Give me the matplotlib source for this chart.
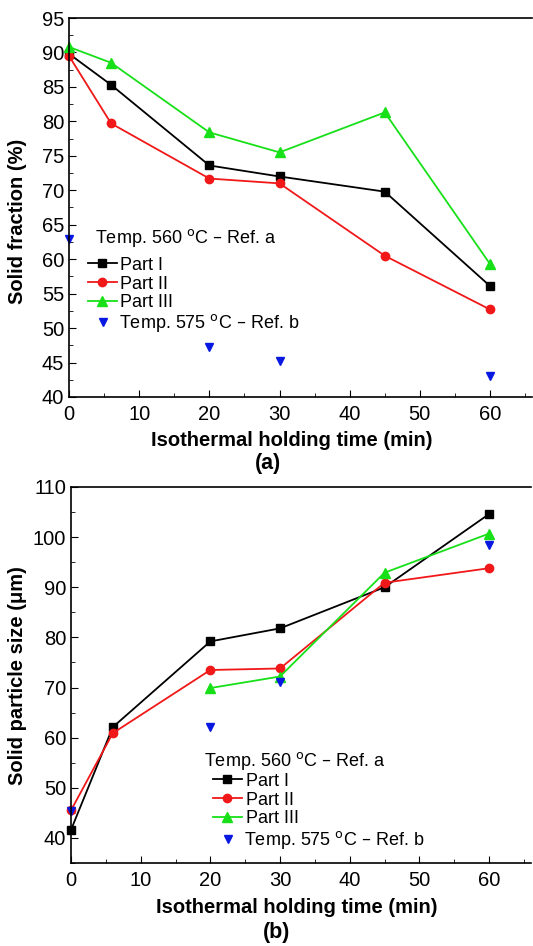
import numpy as np
import matplotlib.pyplot as plt
from matplotlib.ticker import MultipleLocator
from matplotlib.lines import Line2D

plt.rcParams['font.family'] = ['Liberation Sans', 'DejaVu Sans']

# data (a) solid fraction
t = [0, 6, 20, 30, 45, 60]
frac_p1 = [89.8, 85.3, 73.6, 72.0, 69.8, 56.1]
frac_p2 = [89.5, 79.7, 71.7, 71.0, 60.5, 52.7]
frac_p3 = [90.8, 88.5, 78.4, 75.5, 81.3, 59.3]
t_refb = [0, 20, 30, 60]
frac_refb = [63.0, 47.2, 45.2, 43.1]

# data (b) particle size
size_p1 = [41.6, 62.1, 79.2, 81.8, 90.0, 104.6]
size_p2 = [45.5, 60.9, 73.5, 73.8, 90.9, 93.8]
t_p3b = [20, 30, 45, 60]
size_p3 = [69.9, 72.2, 92.9, 100.7]
size_refb = [45.3, 62.1, 71.2, 98.4]

W, H = 533, 946
fig = plt.figure(figsize=(W / 100, H / 100), dpi=100)
ax1 = fig.add_axes([69 / W, 1 - 397 / H, 66 * 7.017 / W, 379 / H])
ax2 = fig.add_axes([71 / W, 1 - 863 / H, 66 * 6.967 / W, 376 / H])

BLACK, RED, GREEN, BLUE = 'black', '#f01818', '#18e018', '#0818e0'
ref_a = 'Temp. 560 $^{\\mathrm{o}}$C – Ref. a'
ref_b = 'Temp. 575 $^{\\mathrm{o}}$C – Ref. b'


def px(x, y):
    return x / W, 1 - y / H


def style(ax, ylim, ymaj, ymin):
    ax.set_xlim(0, 66)
    ax.set_ylim(*ylim)
    ax.xaxis.set_major_locator(MultipleLocator(10))
    ax.xaxis.set_minor_locator(MultipleLocator(5))
    ax.yaxis.set_major_locator(MultipleLocator(ymaj))
    ax.yaxis.set_minor_locator(MultipleLocator(ymin))
    ax.tick_params(which='both', direction='in', labelsize=14.5, top=False, right=False)
    ax.tick_params(axis='x', pad=6)
    ax.tick_params(which='major', length=5)
    ax.tick_params(which='minor', length=3)
    ax.spines['right'].set_visible(False)
    for s in ax.spines.values():
        s.set_linewidth(1.2)


def legends(ax, title_xy, parts_xy, refb_xy):
    fig.text(*px(*title_xy), ref_a, fontsize=13, ha='left', va='center')
    h = [Line2D([], [], color=BLACK, marker='s', lw=1.3, ms=5.5),
         Line2D([], [], color=RED, marker='o', lw=1.3, ms=6),
         Line2D([], [], color=GREEN, marker='^', lw=1.3, ms=6.5)]
    l1 = ax.legend(h, ['Part I', 'Part II', 'Part III'], frameon=False, fontsize=13,
                   loc='center left', bbox_to_anchor=px(*parts_xy), bbox_transform=fig.transFigure,
                   handlelength=1.6, handletextpad=0.2, labelspacing=0.1,
                   borderaxespad=0, borderpad=0)
    ax.add_artist(l1)
    hb = [Line2D([], [], color=BLUE, marker='v', ls='none', ms=6)]
    ax.legend(hb, [ref_b], frameon=False, fontsize=13,
              loc='center left', bbox_to_anchor=px(*refb_xy), bbox_transform=fig.transFigure,
              handlelength=1.0, handletextpad=0.4, borderaxespad=0, borderpad=0)


kw = dict(lw=1.3, clip_on=False)

ax1.plot(t, frac_p1, '-s', color=BLACK, ms=5.5, **kw)
ax1.plot(t, frac_p2, '-o', color=RED, ms=6, **kw)
ax1.plot(t, frac_p3, '-^', color=GREEN, ms=6.5, **kw)
ax1.plot(t_refb, frac_refb, 'v', color=BLUE, ms=6, ls='none', clip_on=False)
style(ax1, (40, 95), 5, 2.5)
ax1.set_ylabel('Solid fraction (%)', fontsize=14.5, fontweight='bold')
ax1.yaxis.set_label_coords(*px(18, 221), transform=fig.transFigure)
ax1.yaxis.label.set_va('center')
ax1.set_xlabel('Isothermal holding time (min)', fontsize=14.5, fontweight='bold')
ax1.xaxis.set_label_coords(*px(292, 440), transform=fig.transFigure)
ax1.xaxis.label.set_va('center')
legends(ax1, (95, 238), (88, 284), (94, 323))
fig.text(*px(268, 463), '(a)', fontsize=15.5, fontweight='bold', ha='center', va='center')

ax2.plot(t, size_p1, '-s', color=BLACK, ms=5.5, **kw)
ax2.plot(t, size_p2, '-o', color=RED, ms=6, **kw)
ax2.plot(t_p3b, size_p3, '-^', color=GREEN, ms=6.5, **kw)
ax2.plot(t_refb, size_refb, 'v', color=BLUE, ms=6, ls='none', clip_on=False)
style(ax2, (35, 110), 10, 5)
ax2.set_ylabel('Solid particle size (μm)', fontsize=14.5, fontweight='bold')
ax2.yaxis.set_label_coords(*px(18, 676), transform=fig.transFigure)
ax2.yaxis.label.set_va('center')
ax2.set_xlabel('Isothermal holding time (min)', fontsize=14.5, fontweight='bold')
ax2.xaxis.set_label_coords(*px(297, 907), transform=fig.transFigure)
ax2.xaxis.label.set_va('center')
legends(ax2, (204, 761), (213, 800), (219, 840))
fig.text(*px(277, 932), '(b)', fontsize=15.5, fontweight='bold', ha='center', va='center')

fig.savefig('out.png', dpi=100)
